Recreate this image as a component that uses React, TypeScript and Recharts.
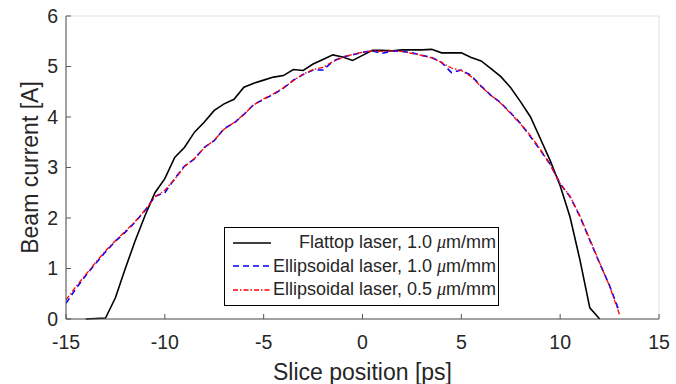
import { LineChart, Line, XAxis, YAxis, CartesianGrid } from 'recharts'

const xTicks = [-15, -10, -5, 0, 5, 10, 15]
const yTicks = [0, 1, 2, 3, 4, 5, 6]

const flattopX = [
  -14, -13, -12.5, -12, -11.5, -11, -10.5, -10, -9.5, -9, -8.5, -8, -7.5, -7, -6.5, -6, -5.5, -5, -4.5, -4,
  -3.5, -3, -2.5, -2, -1.5, -1, -0.5, 0, 0.5, 1, 1.5, 2, 2.5, 3, 3.5, 4, 4.5, 5, 5.5, 6, 6.5, 7, 7.5, 8, 8.5,
  9, 9.5, 10, 10.5, 11, 11.5, 12,
]
const flattopY = [
  0, 0.02, 0.42, 1.0, 1.55, 2.05, 2.5, 2.78, 3.2, 3.4, 3.7, 3.9, 4.13, 4.26, 4.35, 4.59, 4.67, 4.73, 4.79, 4.82,
  4.94, 4.92, 5.05, 5.14, 5.23, 5.19, 5.12, 5.22, 5.32, 5.32, 5.31, 5.33, 5.33, 5.33, 5.34, 5.27, 5.27, 5.27,
  5.18, 5.11, 4.96, 4.8, 4.58, 4.3, 4.0, 3.57, 3.13, 2.64, 2.02, 1.17, 0.22, 0,
]

const ellipsoidX = [
  -15, -14.5, -14, -13.5, -13, -12.5, -12, -11.5, -11, -10.5, -10, -9.5, -9, -8.5, -8, -7.5, -7, -6.5, -6, -5.5,
  -5, -4.5, -4, -3.5, -3, -2.5, -2, -1.5, -1, -0.5, 0, 0.5, 1, 1.5, 2, 2.5, 3, 3.5, 4, 4.5, 5, 5.5, 6, 6.5, 7,
  7.5, 8, 8.5, 9, 9.5, 10, 10.5, 11, 11.5, 12, 12.5, 13,
]
const ellipsoid10Y = [
  0.31, 0.6, 0.86, 1.1, 1.33, 1.54, 1.72, 1.92, 2.15, 2.43, 2.5, 2.78, 3.03, 3.17, 3.4, 3.53, 3.77, 3.88, 4.05,
  4.25, 4.35, 4.45, 4.57, 4.73, 4.84, 4.93, 4.93, 5.1, 5.19, 5.23, 5.28, 5.31, 5.26, 5.31, 5.3, 5.27, 5.22, 5.18,
  5.08, 4.88, 4.93, 4.82, 4.61, 4.43, 4.28, 4.08, 3.87, 3.61, 3.34, 3.06, 2.68, 2.42, 2.03, 1.56, 1.1, 0.66, 0.14,
]
const ellipsoid05Y = [
  0.38, 0.64, 0.88, 1.12, 1.35, 1.55, 1.74, 1.93, 2.16, 2.42, 2.55, 2.77, 3.02, 3.18, 3.39, 3.54, 3.76, 3.89, 4.05,
  4.24, 4.36, 4.46, 4.58, 4.72, 4.85, 4.94, 4.98, 5.1, 5.18, 5.24, 5.28, 5.31, 5.3, 5.31, 5.3, 5.26, 5.22, 5.17,
  5.08, 4.97, 4.92, 4.8, 4.6, 4.43, 4.27, 4.07, 3.86, 3.63, 3.36, 3.05, 2.68, 2.43, 2.04, 1.58, 1.11, 0.65, 0.09,
]

const flattop = flattopX.map((x, i) => ({ x, y: flattopY[i] }))
const ellipsoid10 = ellipsoidX.map((x, i) => ({ x, y: ellipsoid10Y[i] }))
const ellipsoid05 = ellipsoidX.map((x, i) => ({ x, y: ellipsoid05Y[i] }))

const FONT = '"Liberation Sans", Arial, Helvetica, sans-serif'
const TEXT = '#262626'
const AXIS = '#555'

const legendItems = [
  { label: 'Flattop laser, 1.0 ', color: '#000', dash: undefined },
  { label: 'Ellipsoidal laser, 1.0 ', color: '#0000ff', dash: '6 4' },
  { label: 'Ellipsoidal laser, 0.5 ', color: '#ff0000', dash: '5 2 1.5 2' },
]

function LegendBox() {
  return (
    <div
      style={{
        position: 'absolute',
        left: 224,
        top: 227,
        width: 273,
        height: 74,
        border: '1px solid #000',
        background: '#fff',
        fontFamily: FONT,
        fontSize: 18,
        color: TEXT,
        paddingTop: 3,
        boxSizing: 'content-box',
      }}
    >
      {legendItems.map((it) => (
        <div key={it.label} style={{ display: 'flex', alignItems: 'center', height: 23.5 }}>
          <svg width={46} height={10} style={{ flex: 'none' }}>
            <line x1={8} x2={46} y1={5} y2={5} stroke={it.color} strokeWidth={1.5} strokeDasharray={it.dash} />
          </svg>
          <div style={{ flex: 1, textAlign: 'right', paddingRight: 2, whiteSpace: 'pre' }}>
            {it.label}
            <i style={{ fontFamily: '"Liberation Serif", serif' }}>μ</i>m/mm
          </div>
        </div>
      ))}
    </div>
  )
}

export default function App() {
  return (
    <div style={{ position: 'fixed', left: 0, top: 0, width: 676, height: 384, background: '#fff' }}>
      <LineChart width={676} height={384} margin={{ top: 16, right: 17, bottom: 0, left: 0 }}>
        <CartesianGrid stroke="#e0e0e0" strokeWidth={1} />
        <XAxis
          xAxisId="b"
          dataKey="x"
          type="number"
          domain={[-15, 15]}
          ticks={xTicks}
          allowDataOverflow
          height={65}
          stroke={AXIS}
          tickSize={-5}
          tickMargin={21}
          tick={{ fill: TEXT, fontSize: 19.5, fontFamily: FONT }}
          label={{
            value: 'Slice position [ps]',
            position: 'insideBottom',
            offset: 4,
            style: { fill: TEXT, fontSize: 23, fontFamily: FONT },
          }}
        />
        <XAxis
          xAxisId="t"
          orientation="top"
          dataKey="x"
          type="number"
          domain={[-15, 15]}
          ticks={xTicks}
          height={0}
          stroke={AXIS}
          tickSize={-5}
          tickFormatter={() => ''}
        />
        <YAxis
          yAxisId="l"
          type="number"
          domain={[0, 6]}
          ticks={yTicks}
          width={66}
          stroke={AXIS}
          tickSize={-5}
          tickMargin={13}
          tick={{ fill: TEXT, fontSize: 19.5, fontFamily: FONT }}
          label={{
            value: 'Beam current [A]',
            angle: -90,
            position: 'insideLeft',
            offset: 30,
            style: { fill: TEXT, fontSize: 23, fontFamily: FONT, textAnchor: 'middle' },
          }}
        />
        <YAxis
          yAxisId="r"
          orientation="right"
          type="number"
          domain={[0, 6]}
          ticks={yTicks}
          width={0}
          stroke={AXIS}
          tickSize={-5}
          tickFormatter={() => ''}
        />
        <Line
          xAxisId="b"
          yAxisId="l"
          data={flattop}
          dataKey="y"
          type="linear"
          stroke="#000"
          strokeWidth={1.6}
          dot={false}
          isAnimationActive={false}
        />
        <Line
          xAxisId="b"
          yAxisId="l"
          data={ellipsoid10}
          dataKey="y"
          type="linear"
          stroke="#0000ff"
          strokeWidth={1.6}
          strokeDasharray="6 4"
          dot={false}
          isAnimationActive={false}
        />
        <Line
          xAxisId="b"
          yAxisId="l"
          data={ellipsoid05}
          dataKey="y"
          type="linear"
          stroke="#ff0000"
          strokeWidth={1.3}
          strokeDasharray="5 2 1.5 2"
          dot={false}
          isAnimationActive={false}
        />
      </LineChart>
      <LegendBox />
    </div>
  )
}
